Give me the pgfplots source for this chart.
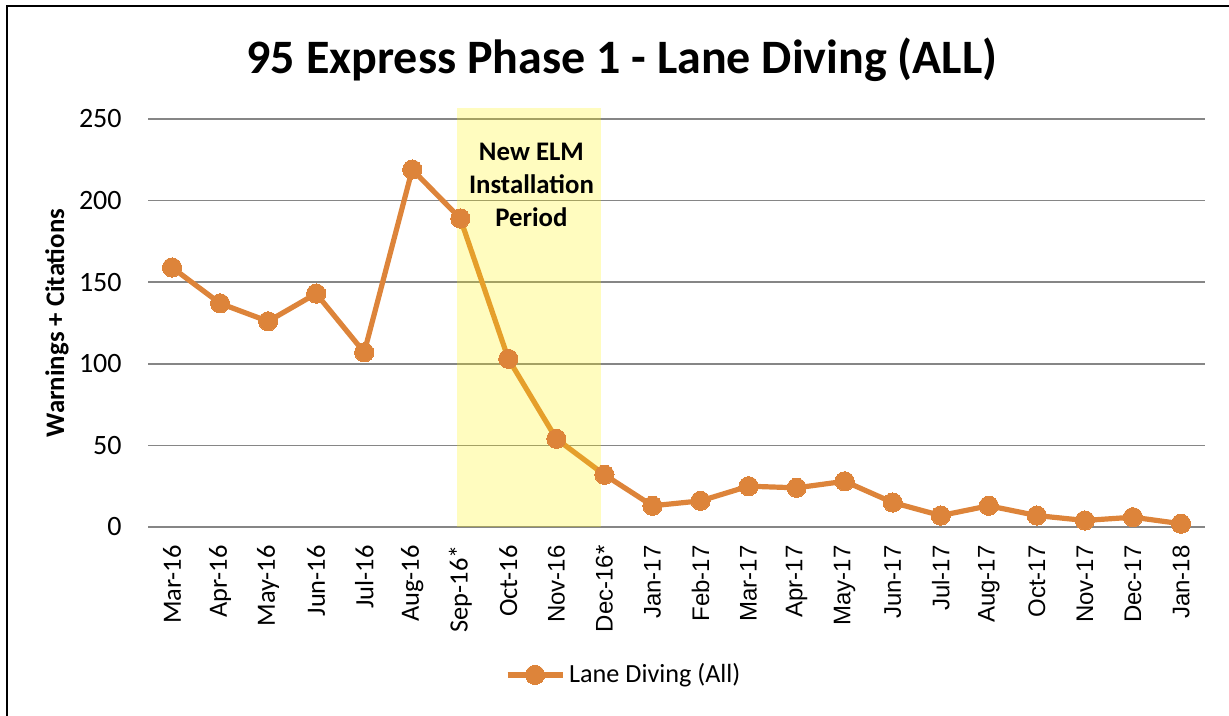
\documentclass[border=0pt]{standalone}
\usepackage{pgfplots}
\pgfplotsset{compat=1.18}
\usepackage{fontspec}
\setmainfont{Carlito}
\newfontfamily\arialf{Liberation Sans}
\definecolor{lineor}{RGB}{221,132,58}
\definecolor{gridc}{RGB}{134,134,134}
\begin{document}
\begin{tikzpicture}
\useasboundingbox (0pt,0pt) rectangle (614.5pt,358pt);
\draw[line width=0.7pt] (3.5pt,0pt) -- (3.5pt,355pt) -- (614.5pt,355pt);
\node[anchor=base, font=\fontsize{24}{28}\selectfont\bfseries] at (311pt,321pt) {95 Express Phase 1 - Lane Diving (ALL)};
\node[rotate=90, font=\fontsize{13.4}{15}\selectfont\bfseries] at (28.5pt,196.5pt) {Warnings + Citations};
\begin{axis}[
  at={(74pt,94.5pt)}, anchor=south west,
  scale only axis, width=528.5pt, height=209.5pt,
  xmin=-0.5, xmax=21.5, ymin=0, ymax=256.7,
  clip=false,
  axis line style={draw=none},
  major tick length=0pt,
  ytick={0,50,100,150,200,250},
  ymajorgrids,
  grid style={gridc, line width=0.8pt},
  /pgf/number format/assume math mode=true,
  yticklabel style={font=\fontsize{14}{16}\selectfont, anchor=east, inner sep=0pt},
  yticklabel shift=13pt,
  xtick={0,...,21},
  xticklabels={Mar-16,Apr-16,May-16,Jun-16,Jul-16,Aug-16,Sep-16*,Oct-16,
    {\arialf\fontsize{12}{14}\selectfont Nov-16},{\arialf\fontsize{12}{14}\selectfont Dec-16*},
    {\arialf\fontsize{12}{14}\selectfont Jan-17},{\arialf\fontsize{12}{14}\selectfont Feb-17},
    {\arialf\fontsize{12}{14}\selectfont Mar-17},{\arialf\fontsize{12}{14}\selectfont Apr-17},
    {\arialf\fontsize{12}{14}\selectfont May-17},{\arialf\fontsize{12}{14}\selectfont Jun-17},
    {\arialf\fontsize{12}{14}\selectfont Jul-17},{\arialf\fontsize{12}{14}\selectfont Aug-17},
    {\arialf\fontsize{12}{14}\selectfont Oct-17},{\arialf\fontsize{12}{14}\selectfont Nov-17},
    {\arialf\fontsize{12}{14}\selectfont Dec-17},{\arialf\fontsize{12}{14}\selectfont Jan-18}},
  xticklabel style={font=\fontsize{13.2}{15}\selectfont, rotate=90, anchor=east, inner sep=0pt},
  xticklabel shift=9pt,
  legend style={draw=none, at={(0.451,-0.353)}, anchor=center, font=\fontsize{13.1}{15}\selectfont, inner sep=1pt},
  legend image code/.code={
    \draw[#1, mark=none] (0pt,0pt) -- (27.5pt,0pt);
    \draw[#1, only marks] plot coordinates {(13.75pt,0pt)};
  },
]
\addplot[lineor, line width=2.6pt, mark=*, mark size=4.8pt, mark options={fill=lineor, draw=lineor, line width=0pt}]
 coordinates {
 (0,159) (1,137) (2,126) (3,143) (4,107) (5,219) (6,189) (7,103) (8,54) (9,32)
 (10,13) (11,16) (12,25) (13,24) (14,28) (15,15) (16,7) (17,13) (18,7) (19,4) (20,6) (21,2)
 };
\addlegendentry{Lane Diving (All)}
\fill[yellow, opacity=0.25] (axis cs:5.93,0) rectangle (axis cs:8.93,256.7);
\node[align=center, font=\fontsize{13.4}{16.5}\selectfont\bfseries] at (axis cs:7.48,209.5) {New ELM\\Installation\\Period};
\end{axis}
\end{tikzpicture}
\end{document}
